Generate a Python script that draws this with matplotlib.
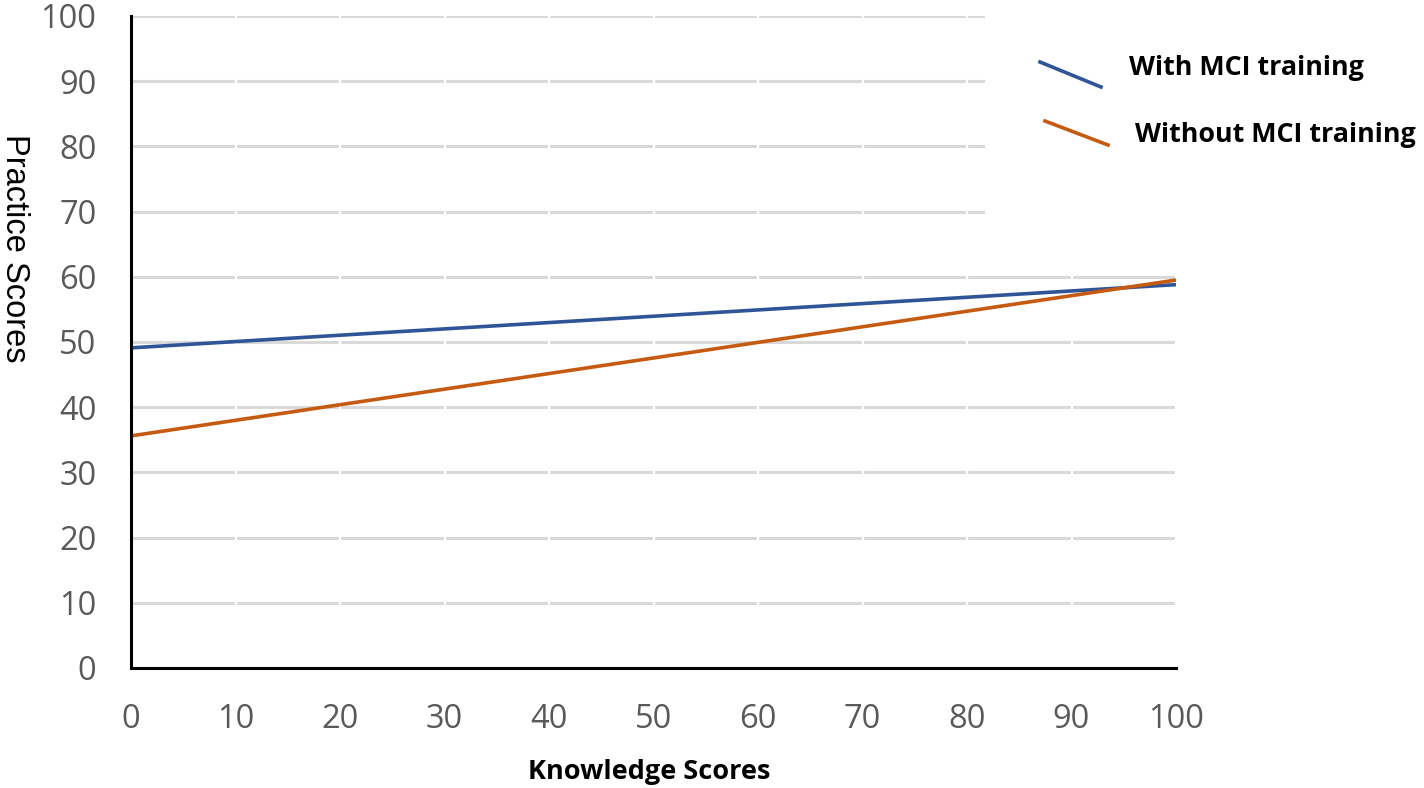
""" Practice vs knowledge scores, with / without MCI training. """

import numpy as np
from matplotlib import pyplot as plt
from matplotlib.lines import Line2D
from matplotlib.patches import Rectangle

# Data
knowledge = [0, 100]
with_mci = [49.1, 58.8]
without_mci = [35.6, 59.5]
series_labels = ['With MCI training', 'Without MCI training']
series_colors = ['#2F5597', '#C55A11']
x_ticks = list(range(0, 101, 10))
y_ticks = list(range(0, 101, 10))

fig = plt.figure(figsize=(14.24, 7.88), dpi=100)
ax = fig.add_axes([131/1424, 1 - 668/788, (1176-131)/1424, (668-16)/788])

# Gridlines (light gray, with small breaks at each x tick)
for yv in y_ticks[1:]:
    ax.axhline(yv, color='#D9D9D9', lw=2.2, zorder=1)
for xv in x_ticks[1:]:
    ax.axvline(xv, color='white', lw=1.6, zorder=1.5)

# Lines
ax.plot(knowledge, with_mci, color=series_colors[0], lw=2.6, zorder=3,
        solid_capstyle='butt')
ax.plot(knowledge, without_mci, color=series_colors[1], lw=2.6, zorder=3,
        solid_capstyle='butt')

ax.set_xlim(0, 100)
ax.set_ylim(0, 100)
ax.set_xticks(x_ticks)
ax.set_yticks(y_ticks)
ax.tick_params(length=0, labelsize=23.5, labelcolor='#595959')
ax.tick_params(axis='y', pad=25)
ax.tick_params(axis='x', pad=25)
for lbl in ax.get_xticklabels() + ax.get_yticklabels():
    lbl.set_family('Open Sans')

for s in ['top', 'right']:
    ax.spines[s].set_visible(False)
for s in ['left', 'bottom']:
    ax.spines[s].set_linewidth(2.2)
    ax.spines[s].set_color('black')
    ax.spines[s].set_zorder(4)

fig.text(649/1424, 1 - 772/788, 'Knowledge Scores', ha='center', va='center',
         fontsize=19.5, fontweight='bold', family='Open Sans')
fig.text(14/1424, 1 - 248/788, 'Practice Scores', rotation=270,
         ha='center', va='center', fontsize=23.5, family='Liberation Sans')

# Legend box covering the grid, with slanted line keys
fig.add_artist(Rectangle((985/1424, 1 - 240/788), 1, 1, transform=fig.transFigure,
                         facecolor='white', edgecolor='none', zorder=2))
key_pos = [((1040, 62), (1101, 87)), ((1045, 121), (1108, 145))]
txt_pos = [(1129, 68), (1135, 135)]
for (p0, p1), (tx, ty), lab, col in zip(key_pos, txt_pos, series_labels, series_colors):
    fig.add_artist(Line2D([p0[0]/1424, p1[0]/1424], [1 - p0[1]/788, 1 - p1[1]/788],
                          transform=fig.transFigure, color=col, lw=2.6, zorder=5))
    fig.text(tx/1424, 1 - ty/788, lab, ha='left', va='center', fontsize=19.4,
             fontweight='bold', family='Open Sans', zorder=5)

fig.savefig('out.png', dpi=100)
